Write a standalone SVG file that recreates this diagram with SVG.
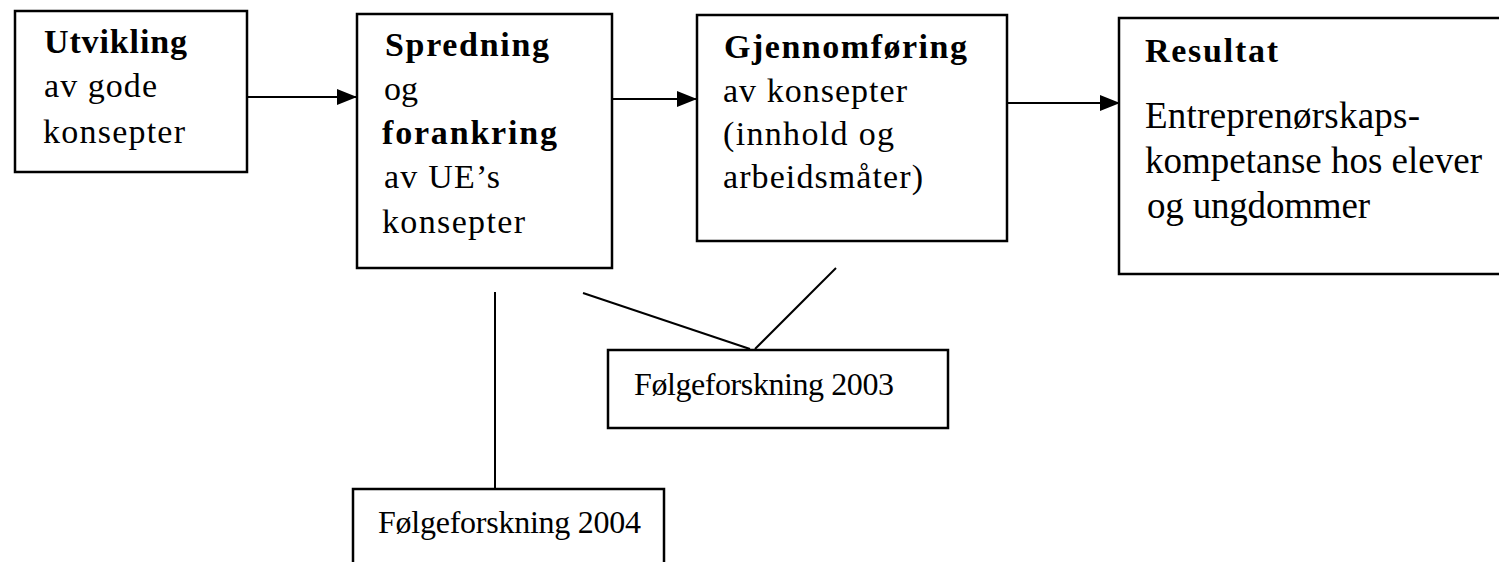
<svg xmlns="http://www.w3.org/2000/svg" width="1499" height="562" viewBox="0 0 1499 562">
<style>
.box{fill:#fff;stroke:#000;stroke-width:2.5}
.t{font-family:"Liberation Serif","Times New Roman",serif;font-size:34px;fill:#000}
.b{font-weight:bold}
.lg{font-size:37px}
.sm{font-size:32px}
.ln{stroke:#000;stroke-width:2;fill:none}
</style>
<defs>
<marker id="ah" markerWidth="20" markerHeight="16" refX="20" refY="8" orient="auto" markerUnits="userSpaceOnUse">
<path d="M0,0 L20,8 L0,16 Z" fill="#000"/>
</marker>
</defs>
<rect width="1499" height="562" fill="#fff"/>
<g id="connectors">
<line class="ln" x1="247" y1="97" x2="357" y2="97" marker-end="url(#ah)"/>
<line class="ln" x1="612" y1="99" x2="697" y2="99" marker-end="url(#ah)"/>
<line class="ln" x1="1007" y1="103" x2="1120" y2="103" marker-end="url(#ah)"/>
<line class="ln" x1="495" y1="292" x2="495" y2="489"/>
<line class="ln" x1="583" y1="293" x2="750" y2="349"/>
<line class="ln" x1="836" y1="268" x2="755" y2="349"/>
</g>
<g id="n-utvikling">
<rect class="box" x="15" y="11" width="232" height="161"/>
<text class="t b" x="44" y="53" textLength="143" lengthAdjust="spacing">Utvikling</text>
<text class="t" x="44" y="97" textLength="113" lengthAdjust="spacing">av gode</text>
<text class="t" x="43" y="143" textLength="142" lengthAdjust="spacing">konsepter</text>
</g>
<g id="n-spredning">
<rect class="box" x="357" y="14" width="255" height="254"/>
<text class="t b" x="385" y="56" textLength="164" lengthAdjust="spacing">Spredning</text>
<text class="t" x="384" y="100" textLength="34" lengthAdjust="spacing">og</text>
<text class="t b" x="382" y="144" textLength="175" lengthAdjust="spacing">forankring</text>
<text class="t" x="384" y="188" textLength="116" lengthAdjust="spacing">av UE’s</text>
<text class="t" x="382" y="233" textLength="143" lengthAdjust="spacing">konsepter</text>
</g>
<g id="n-gjennomforing">
<rect class="box" x="697" y="15" width="310" height="226"/>
<text class="t b" x="724" y="58" textLength="243" lengthAdjust="spacing">Gjennomføring</text>
<text class="t" x="723" y="102" textLength="184" lengthAdjust="spacing">av konsepter</text>
<text class="t" x="723" y="145" textLength="171" lengthAdjust="spacing">(innhold og</text>
<text class="t" x="723" y="188" textLength="200" lengthAdjust="spacing">arbeidsmåter)</text>
</g>
<g id="n-resultat">
<rect class="box" x="1119" y="18" width="400" height="256"/>
<text class="t b" x="1145" y="62" textLength="133" lengthAdjust="spacing">Resultat</text>
<text class="t lg" x="1145" y="128" textLength="275" lengthAdjust="spacing">Entreprenørskaps-</text>
<text class="t lg" x="1145" y="173" textLength="337" lengthAdjust="spacing">kompetanse hos elever</text>
<text class="t lg" x="1147" y="218" textLength="223" lengthAdjust="spacing">og ungdommer</text>
</g>
<g id="n-f2003">
<rect class="box" x="608" y="350" width="340" height="78"/>
<text class="t sm" x="634" y="395" textLength="260" lengthAdjust="spacing">Følgeforskning 2003</text>
</g>
<g id="n-f2004">
<rect class="box" x="353" y="489" width="311" height="100"/>
<text class="t sm" x="378" y="533" textLength="263" lengthAdjust="spacing">Følgeforskning 2004</text>
</g>
</svg>
